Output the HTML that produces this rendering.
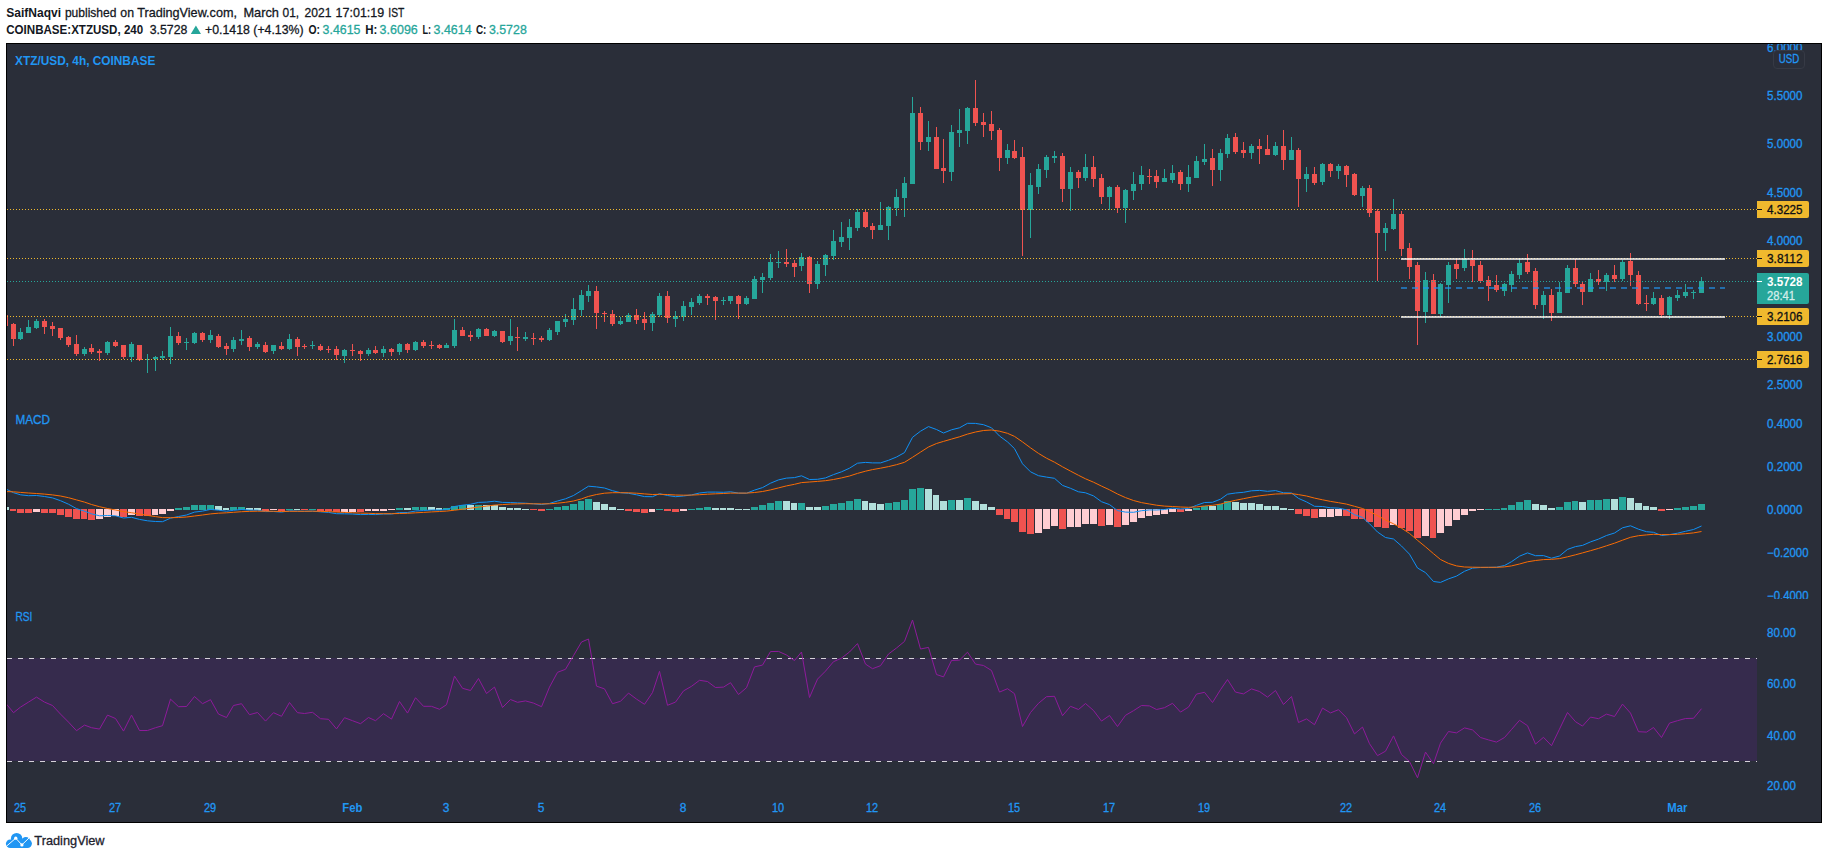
<!DOCTYPE html>
<html><head><meta charset="utf-8"><title>XTZ/USD chart</title>
<style>html,body{margin:0;padding:0;background:#fff;width:1828px;height:859px;overflow:hidden}</style></head>
<body>
<svg width="1828" height="859" viewBox="0 0 1828 859" style="position:absolute;left:0;top:0;font-family:'Liberation Sans',sans-serif" shape-rendering="crispEdges">
<rect x="0" y="0" width="1828" height="859" fill="#ffffff"/>
<rect x="6.5" y="43.5" width="1815" height="779" fill="#2a2e39" stroke="#000000" stroke-width="1"/>
<clipPath id="cp"><rect x="7" y="44" width="1814" height="778"/></clipPath>
<g clip-path="url(#cp)">
<rect x="7" y="658" width="1750" height="103" fill="#362b4d"/>
<line x1="7" y1="658.5" x2="1757" y2="658.5" stroke="#d6d2da" stroke-width="1" stroke-dasharray="5 6"/>
<line x1="7" y1="761.5" x2="1757" y2="761.5" stroke="#d6d2da" stroke-width="1" stroke-dasharray="5 6"/>
<rect x="5" y="312" width="1" height="14" fill="#ef5350"/><rect x="3" y="315" width="5" height="11" fill="#ef5350"/>
<rect x="13" y="323" width="1" height="23" fill="#ef5350"/><rect x="11" y="324" width="5" height="15" fill="#ef5350"/>
<rect x="20" y="328" width="1" height="12" fill="#26a69a"/><rect x="18" y="332" width="5" height="7" fill="#26a69a"/>
<rect x="28" y="320" width="1" height="13" fill="#26a69a"/><rect x="26" y="327" width="5" height="6" fill="#26a69a"/>
<rect x="36" y="319" width="1" height="10" fill="#26a69a"/><rect x="34" y="321" width="5" height="7" fill="#26a69a"/>
<rect x="44" y="319" width="1" height="15" fill="#ef5350"/><rect x="42" y="321" width="5" height="6" fill="#ef5350"/>
<rect x="52" y="322" width="1" height="14" fill="#ef5350"/><rect x="50" y="326" width="5" height="3" fill="#ef5350"/>
<rect x="60" y="328" width="1" height="12" fill="#ef5350"/><rect x="58" y="328" width="5" height="10" fill="#ef5350"/>
<rect x="68" y="336" width="1" height="11" fill="#ef5350"/><rect x="66" y="337" width="5" height="8" fill="#ef5350"/>
<rect x="76" y="335" width="1" height="21" fill="#ef5350"/><rect x="74" y="344" width="5" height="10" fill="#ef5350"/>
<rect x="84" y="347" width="1" height="9" fill="#26a69a"/><rect x="82" y="349" width="5" height="5" fill="#26a69a"/>
<rect x="91" y="344" width="1" height="10" fill="#ef5350"/><rect x="89" y="348" width="5" height="4" fill="#ef5350"/>
<rect x="99" y="349" width="1" height="12" fill="#ef5350"/><rect x="97" y="351" width="5" height="2" fill="#ef5350"/>
<rect x="107" y="341" width="1" height="14" fill="#26a69a"/><rect x="105" y="342" width="5" height="11" fill="#26a69a"/>
<rect x="115" y="340" width="1" height="7" fill="#ef5350"/><rect x="113" y="342" width="5" height="4" fill="#ef5350"/>
<rect x="123" y="345" width="1" height="14" fill="#ef5350"/><rect x="121" y="345" width="5" height="12" fill="#ef5350"/>
<rect x="131" y="342" width="1" height="20" fill="#26a69a"/><rect x="129" y="344" width="5" height="13" fill="#26a69a"/>
<rect x="139" y="345" width="1" height="16" fill="#ef5350"/><rect x="137" y="345" width="5" height="15" fill="#ef5350"/>
<rect x="147" y="354" width="1" height="19" fill="#26a69a"/><rect x="145" y="359" width="5" height="1" fill="#26a69a"/>
<rect x="155" y="356" width="1" height="15" fill="#26a69a"/><rect x="153" y="357" width="5" height="2" fill="#26a69a"/>
<rect x="162" y="351" width="1" height="9" fill="#26a69a"/><rect x="160" y="356" width="5" height="2" fill="#26a69a"/>
<rect x="170" y="327" width="1" height="37" fill="#26a69a"/><rect x="168" y="336" width="5" height="21" fill="#26a69a"/>
<rect x="178" y="332" width="1" height="13" fill="#ef5350"/><rect x="176" y="336" width="5" height="7" fill="#ef5350"/>
<rect x="186" y="338" width="1" height="12" fill="#26a69a"/><rect x="184" y="342" width="5" height="1" fill="#26a69a"/>
<rect x="194" y="332" width="1" height="12" fill="#26a69a"/><rect x="192" y="333" width="5" height="10" fill="#26a69a"/>
<rect x="202" y="332" width="1" height="10" fill="#ef5350"/><rect x="200" y="333" width="5" height="7" fill="#ef5350"/>
<rect x="210" y="330" width="1" height="13" fill="#26a69a"/><rect x="208" y="335" width="5" height="5" fill="#26a69a"/>
<rect x="218" y="334" width="1" height="14" fill="#ef5350"/><rect x="216" y="336" width="5" height="11" fill="#ef5350"/>
<rect x="226" y="343" width="1" height="12" fill="#ef5350"/><rect x="224" y="346" width="5" height="3" fill="#ef5350"/>
<rect x="233" y="337" width="1" height="15" fill="#26a69a"/><rect x="231" y="340" width="5" height="9" fill="#26a69a"/>
<rect x="241" y="330" width="1" height="15" fill="#26a69a"/><rect x="239" y="339" width="5" height="2" fill="#26a69a"/>
<rect x="249" y="336" width="1" height="15" fill="#ef5350"/><rect x="247" y="338" width="5" height="9" fill="#ef5350"/>
<rect x="257" y="342" width="1" height="7" fill="#26a69a"/><rect x="255" y="344" width="5" height="3" fill="#26a69a"/>
<rect x="265" y="342" width="1" height="11" fill="#ef5350"/><rect x="263" y="345" width="5" height="7" fill="#ef5350"/>
<rect x="273" y="345" width="1" height="9" fill="#26a69a"/><rect x="271" y="345" width="5" height="6" fill="#26a69a"/>
<rect x="281" y="342" width="1" height="8" fill="#ef5350"/><rect x="279" y="346" width="5" height="3" fill="#ef5350"/>
<rect x="289" y="334" width="1" height="16" fill="#26a69a"/><rect x="287" y="339" width="5" height="10" fill="#26a69a"/>
<rect x="297" y="337" width="1" height="19" fill="#ef5350"/><rect x="295" y="339" width="5" height="8" fill="#ef5350"/>
<rect x="304" y="344" width="1" height="5" fill="#ef5350"/><rect x="302" y="346" width="5" height="1" fill="#ef5350"/>
<rect x="312" y="341" width="1" height="8" fill="#26a69a"/><rect x="310" y="345" width="5" height="1" fill="#26a69a"/>
<rect x="320" y="344" width="1" height="7" fill="#ef5350"/><rect x="318" y="346" width="5" height="4" fill="#ef5350"/>
<rect x="328" y="346" width="1" height="7" fill="#ef5350"/><rect x="326" y="349" width="5" height="1" fill="#ef5350"/>
<rect x="336" y="346" width="1" height="14" fill="#ef5350"/><rect x="334" y="349" width="5" height="6" fill="#ef5350"/>
<rect x="344" y="349" width="1" height="14" fill="#26a69a"/><rect x="342" y="350" width="5" height="6" fill="#26a69a"/>
<rect x="352" y="344" width="1" height="12" fill="#ef5350"/><rect x="350" y="350" width="5" height="1" fill="#ef5350"/>
<rect x="360" y="350" width="1" height="11" fill="#ef5350"/><rect x="358" y="351" width="5" height="3" fill="#ef5350"/>
<rect x="368" y="348" width="1" height="8" fill="#26a69a"/><rect x="366" y="350" width="5" height="4" fill="#26a69a"/>
<rect x="375" y="346" width="1" height="8" fill="#ef5350"/><rect x="373" y="350" width="5" height="3" fill="#ef5350"/>
<rect x="383" y="346" width="1" height="11" fill="#26a69a"/><rect x="381" y="349" width="5" height="4" fill="#26a69a"/>
<rect x="391" y="348" width="1" height="8" fill="#ef5350"/><rect x="389" y="349" width="5" height="3" fill="#ef5350"/>
<rect x="399" y="343" width="1" height="12" fill="#26a69a"/><rect x="397" y="344" width="5" height="8" fill="#26a69a"/>
<rect x="407" y="343" width="1" height="10" fill="#ef5350"/><rect x="405" y="344" width="5" height="6" fill="#ef5350"/>
<rect x="415" y="341" width="1" height="10" fill="#26a69a"/><rect x="413" y="342" width="5" height="8" fill="#26a69a"/>
<rect x="423" y="340" width="1" height="8" fill="#ef5350"/><rect x="421" y="342" width="5" height="4" fill="#ef5350"/>
<rect x="431" y="341" width="1" height="8" fill="#ef5350"/><rect x="429" y="345" width="5" height="1" fill="#ef5350"/>
<rect x="439" y="344" width="1" height="5" fill="#ef5350"/><rect x="437" y="345" width="5" height="3" fill="#ef5350"/>
<rect x="446" y="343" width="1" height="5" fill="#26a69a"/><rect x="444" y="345" width="5" height="3" fill="#26a69a"/>
<rect x="454" y="319" width="1" height="29" fill="#26a69a"/><rect x="452" y="330" width="5" height="16" fill="#26a69a"/>
<rect x="462" y="327" width="1" height="9" fill="#ef5350"/><rect x="460" y="330" width="5" height="6" fill="#ef5350"/>
<rect x="470" y="331" width="1" height="10" fill="#ef5350"/><rect x="468" y="335" width="5" height="2" fill="#ef5350"/>
<rect x="478" y="328" width="1" height="11" fill="#26a69a"/><rect x="476" y="329" width="5" height="8" fill="#26a69a"/>
<rect x="486" y="328" width="1" height="8" fill="#ef5350"/><rect x="484" y="329" width="5" height="7" fill="#ef5350"/>
<rect x="494" y="330" width="1" height="7" fill="#26a69a"/><rect x="492" y="331" width="5" height="5" fill="#26a69a"/>
<rect x="502" y="331" width="1" height="12" fill="#ef5350"/><rect x="500" y="331" width="5" height="11" fill="#ef5350"/>
<rect x="510" y="319" width="1" height="26" fill="#26a69a"/><rect x="508" y="336" width="5" height="5" fill="#26a69a"/>
<rect x="517" y="327" width="1" height="24" fill="#ef5350"/><rect x="515" y="337" width="5" height="1" fill="#ef5350"/>
<rect x="525" y="332" width="1" height="9" fill="#26a69a"/><rect x="523" y="337" width="5" height="2" fill="#26a69a"/>
<rect x="533" y="333" width="1" height="12" fill="#ef5350"/><rect x="531" y="338" width="5" height="1" fill="#ef5350"/>
<rect x="541" y="336" width="1" height="6" fill="#ef5350"/><rect x="539" y="338" width="5" height="2" fill="#ef5350"/>
<rect x="549" y="328" width="1" height="13" fill="#26a69a"/><rect x="547" y="330" width="5" height="10" fill="#26a69a"/>
<rect x="557" y="321" width="1" height="14" fill="#26a69a"/><rect x="555" y="321" width="5" height="11" fill="#26a69a"/>
<rect x="565" y="314" width="1" height="13" fill="#26a69a"/><rect x="563" y="319" width="5" height="3" fill="#26a69a"/>
<rect x="573" y="298" width="1" height="27" fill="#26a69a"/><rect x="571" y="309" width="5" height="11" fill="#26a69a"/>
<rect x="581" y="290" width="1" height="26" fill="#26a69a"/><rect x="579" y="295" width="5" height="15" fill="#26a69a"/>
<rect x="588" y="285" width="1" height="17" fill="#26a69a"/><rect x="586" y="291" width="5" height="5" fill="#26a69a"/>
<rect x="596" y="286" width="1" height="43" fill="#ef5350"/><rect x="594" y="291" width="5" height="22" fill="#ef5350"/>
<rect x="604" y="311" width="1" height="11" fill="#ef5350"/><rect x="602" y="313" width="5" height="1" fill="#ef5350"/>
<rect x="612" y="310" width="1" height="16" fill="#ef5350"/><rect x="610" y="314" width="5" height="10" fill="#ef5350"/>
<rect x="620" y="317" width="1" height="8" fill="#26a69a"/><rect x="618" y="321" width="5" height="3" fill="#26a69a"/>
<rect x="628" y="313" width="1" height="9" fill="#26a69a"/><rect x="626" y="315" width="5" height="7" fill="#26a69a"/>
<rect x="636" y="309" width="1" height="15" fill="#ef5350"/><rect x="634" y="315" width="5" height="5" fill="#ef5350"/>
<rect x="644" y="312" width="1" height="18" fill="#ef5350"/><rect x="642" y="319" width="5" height="4" fill="#ef5350"/>
<rect x="652" y="312" width="1" height="19" fill="#26a69a"/><rect x="650" y="314" width="5" height="9" fill="#26a69a"/>
<rect x="659" y="293" width="1" height="24" fill="#26a69a"/><rect x="657" y="296" width="5" height="19" fill="#26a69a"/>
<rect x="667" y="291" width="1" height="32" fill="#ef5350"/><rect x="665" y="296" width="5" height="22" fill="#ef5350"/>
<rect x="675" y="311" width="1" height="16" fill="#26a69a"/><rect x="673" y="316" width="5" height="3" fill="#26a69a"/>
<rect x="683" y="301" width="1" height="20" fill="#26a69a"/><rect x="681" y="306" width="5" height="11" fill="#26a69a"/>
<rect x="691" y="298" width="1" height="17" fill="#26a69a"/><rect x="689" y="302" width="5" height="5" fill="#26a69a"/>
<rect x="699" y="294" width="1" height="11" fill="#26a69a"/><rect x="697" y="296" width="5" height="7" fill="#26a69a"/>
<rect x="707" y="294" width="1" height="11" fill="#ef5350"/><rect x="705" y="296" width="5" height="2" fill="#ef5350"/>
<rect x="715" y="296" width="1" height="24" fill="#ef5350"/><rect x="713" y="297" width="5" height="4" fill="#ef5350"/>
<rect x="723" y="297" width="1" height="8" fill="#26a69a"/><rect x="721" y="300" width="5" height="1" fill="#26a69a"/>
<rect x="730" y="296" width="1" height="8" fill="#26a69a"/><rect x="728" y="296" width="5" height="5" fill="#26a69a"/>
<rect x="738" y="295" width="1" height="24" fill="#ef5350"/><rect x="736" y="296" width="5" height="8" fill="#ef5350"/>
<rect x="746" y="296" width="1" height="9" fill="#26a69a"/><rect x="744" y="298" width="5" height="6" fill="#26a69a"/>
<rect x="754" y="276" width="1" height="23" fill="#26a69a"/><rect x="752" y="279" width="5" height="20" fill="#26a69a"/>
<rect x="762" y="273" width="1" height="20" fill="#26a69a"/><rect x="760" y="277" width="5" height="3" fill="#26a69a"/>
<rect x="770" y="254" width="1" height="26" fill="#26a69a"/><rect x="768" y="262" width="5" height="16" fill="#26a69a"/>
<rect x="778" y="251" width="1" height="17" fill="#26a69a"/><rect x="776" y="262" width="5" height="1" fill="#26a69a"/>
<rect x="786" y="249" width="1" height="18" fill="#ef5350"/><rect x="784" y="262" width="5" height="2" fill="#ef5350"/>
<rect x="794" y="260" width="1" height="17" fill="#ef5350"/><rect x="792" y="263" width="5" height="4" fill="#ef5350"/>
<rect x="801" y="253" width="1" height="18" fill="#26a69a"/><rect x="799" y="257" width="5" height="9" fill="#26a69a"/>
<rect x="809" y="256" width="1" height="37" fill="#ef5350"/><rect x="807" y="257" width="5" height="27" fill="#ef5350"/>
<rect x="817" y="261" width="1" height="28" fill="#26a69a"/><rect x="815" y="264" width="5" height="20" fill="#26a69a"/>
<rect x="825" y="254" width="1" height="22" fill="#26a69a"/><rect x="823" y="255" width="5" height="10" fill="#26a69a"/>
<rect x="833" y="230" width="1" height="30" fill="#26a69a"/><rect x="831" y="241" width="5" height="15" fill="#26a69a"/>
<rect x="841" y="222" width="1" height="25" fill="#26a69a"/><rect x="839" y="237" width="5" height="5" fill="#26a69a"/>
<rect x="849" y="219" width="1" height="31" fill="#26a69a"/><rect x="847" y="227" width="5" height="11" fill="#26a69a"/>
<rect x="857" y="209" width="1" height="22" fill="#26a69a"/><rect x="855" y="212" width="5" height="16" fill="#26a69a"/>
<rect x="865" y="209" width="1" height="19" fill="#ef5350"/><rect x="863" y="212" width="5" height="15" fill="#ef5350"/>
<rect x="872" y="223" width="1" height="16" fill="#ef5350"/><rect x="870" y="226" width="5" height="4" fill="#ef5350"/>
<rect x="880" y="202" width="1" height="28" fill="#26a69a"/><rect x="878" y="225" width="5" height="5" fill="#26a69a"/>
<rect x="888" y="206" width="1" height="34" fill="#26a69a"/><rect x="886" y="207" width="5" height="19" fill="#26a69a"/>
<rect x="896" y="189" width="1" height="27" fill="#26a69a"/><rect x="894" y="197" width="5" height="11" fill="#26a69a"/>
<rect x="904" y="177" width="1" height="40" fill="#26a69a"/><rect x="902" y="183" width="5" height="15" fill="#26a69a"/>
<rect x="912" y="97" width="1" height="87" fill="#26a69a"/><rect x="910" y="113" width="5" height="71" fill="#26a69a"/>
<rect x="920" y="107" width="1" height="43" fill="#ef5350"/><rect x="918" y="113" width="5" height="29" fill="#ef5350"/>
<rect x="928" y="121" width="1" height="30" fill="#26a69a"/><rect x="926" y="137" width="5" height="5" fill="#26a69a"/>
<rect x="936" y="127" width="1" height="42" fill="#ef5350"/><rect x="934" y="137" width="5" height="32" fill="#ef5350"/>
<rect x="943" y="139" width="1" height="44" fill="#ef5350"/><rect x="941" y="168" width="5" height="3" fill="#ef5350"/>
<rect x="951" y="125" width="1" height="56" fill="#26a69a"/><rect x="949" y="132" width="5" height="40" fill="#26a69a"/>
<rect x="959" y="109" width="1" height="38" fill="#26a69a"/><rect x="957" y="130" width="5" height="3" fill="#26a69a"/>
<rect x="967" y="107" width="1" height="37" fill="#26a69a"/><rect x="965" y="108" width="5" height="23" fill="#26a69a"/>
<rect x="975" y="80" width="1" height="46" fill="#ef5350"/><rect x="973" y="108" width="5" height="15" fill="#ef5350"/>
<rect x="983" y="113" width="1" height="24" fill="#ef5350"/><rect x="981" y="122" width="5" height="3" fill="#ef5350"/>
<rect x="991" y="111" width="1" height="29" fill="#ef5350"/><rect x="989" y="124" width="5" height="7" fill="#ef5350"/>
<rect x="999" y="128" width="1" height="43" fill="#ef5350"/><rect x="997" y="130" width="5" height="28" fill="#ef5350"/>
<rect x="1007" y="144" width="1" height="20" fill="#26a69a"/><rect x="1005" y="150" width="5" height="8" fill="#26a69a"/>
<rect x="1014" y="140" width="1" height="19" fill="#ef5350"/><rect x="1012" y="151" width="5" height="7" fill="#ef5350"/>
<rect x="1022" y="147" width="1" height="109" fill="#ef5350"/><rect x="1020" y="157" width="5" height="53" fill="#ef5350"/>
<rect x="1030" y="173" width="1" height="65" fill="#26a69a"/><rect x="1028" y="185" width="5" height="25" fill="#26a69a"/>
<rect x="1038" y="164" width="1" height="30" fill="#26a69a"/><rect x="1036" y="169" width="5" height="18" fill="#26a69a"/>
<rect x="1046" y="155" width="1" height="23" fill="#26a69a"/><rect x="1044" y="157" width="5" height="13" fill="#26a69a"/>
<rect x="1054" y="151" width="1" height="12" fill="#26a69a"/><rect x="1052" y="156" width="5" height="2" fill="#26a69a"/>
<rect x="1062" y="153" width="1" height="49" fill="#ef5350"/><rect x="1060" y="156" width="5" height="33" fill="#ef5350"/>
<rect x="1070" y="167" width="1" height="44" fill="#26a69a"/><rect x="1068" y="172" width="5" height="17" fill="#26a69a"/>
<rect x="1078" y="170" width="1" height="18" fill="#ef5350"/><rect x="1076" y="172" width="5" height="6" fill="#ef5350"/>
<rect x="1085" y="154" width="1" height="27" fill="#26a69a"/><rect x="1083" y="167" width="5" height="11" fill="#26a69a"/>
<rect x="1093" y="156" width="1" height="31" fill="#ef5350"/><rect x="1091" y="167" width="5" height="12" fill="#ef5350"/>
<rect x="1101" y="174" width="1" height="30" fill="#ef5350"/><rect x="1099" y="178" width="5" height="19" fill="#ef5350"/>
<rect x="1109" y="186" width="1" height="24" fill="#26a69a"/><rect x="1107" y="187" width="5" height="10" fill="#26a69a"/>
<rect x="1117" y="185" width="1" height="28" fill="#ef5350"/><rect x="1115" y="187" width="5" height="21" fill="#ef5350"/>
<rect x="1125" y="189" width="1" height="34" fill="#26a69a"/><rect x="1123" y="190" width="5" height="18" fill="#26a69a"/>
<rect x="1133" y="172" width="1" height="28" fill="#26a69a"/><rect x="1131" y="184" width="5" height="7" fill="#26a69a"/>
<rect x="1141" y="166" width="1" height="24" fill="#26a69a"/><rect x="1139" y="175" width="5" height="9" fill="#26a69a"/>
<rect x="1149" y="169" width="1" height="15" fill="#ef5350"/><rect x="1147" y="176" width="5" height="1" fill="#ef5350"/>
<rect x="1156" y="170" width="1" height="18" fill="#ef5350"/><rect x="1154" y="176" width="5" height="6" fill="#ef5350"/>
<rect x="1164" y="169" width="1" height="13" fill="#26a69a"/><rect x="1162" y="178" width="5" height="4" fill="#26a69a"/>
<rect x="1172" y="165" width="1" height="18" fill="#26a69a"/><rect x="1170" y="173" width="5" height="7" fill="#26a69a"/>
<rect x="1180" y="170" width="1" height="20" fill="#ef5350"/><rect x="1178" y="172" width="5" height="12" fill="#ef5350"/>
<rect x="1188" y="165" width="1" height="27" fill="#26a69a"/><rect x="1186" y="177" width="5" height="7" fill="#26a69a"/>
<rect x="1196" y="156" width="1" height="22" fill="#26a69a"/><rect x="1194" y="161" width="5" height="17" fill="#26a69a"/>
<rect x="1204" y="144" width="1" height="21" fill="#26a69a"/><rect x="1202" y="159" width="5" height="3" fill="#26a69a"/>
<rect x="1212" y="149" width="1" height="37" fill="#ef5350"/><rect x="1210" y="158" width="5" height="12" fill="#ef5350"/>
<rect x="1220" y="149" width="1" height="32" fill="#26a69a"/><rect x="1218" y="153" width="5" height="17" fill="#26a69a"/>
<rect x="1227" y="134" width="1" height="24" fill="#26a69a"/><rect x="1225" y="138" width="5" height="16" fill="#26a69a"/>
<rect x="1235" y="133" width="1" height="21" fill="#ef5350"/><rect x="1233" y="137" width="5" height="15" fill="#ef5350"/>
<rect x="1243" y="142" width="1" height="16" fill="#ef5350"/><rect x="1241" y="150" width="5" height="3" fill="#ef5350"/>
<rect x="1251" y="144" width="1" height="15" fill="#26a69a"/><rect x="1249" y="146" width="5" height="7" fill="#26a69a"/>
<rect x="1259" y="139" width="1" height="25" fill="#ef5350"/><rect x="1257" y="146" width="5" height="3" fill="#ef5350"/>
<rect x="1267" y="135" width="1" height="20" fill="#ef5350"/><rect x="1265" y="149" width="5" height="6" fill="#ef5350"/>
<rect x="1275" y="142" width="1" height="14" fill="#26a69a"/><rect x="1273" y="146" width="5" height="9" fill="#26a69a"/>
<rect x="1283" y="130" width="1" height="40" fill="#ef5350"/><rect x="1281" y="146" width="5" height="14" fill="#ef5350"/>
<rect x="1291" y="137" width="1" height="23" fill="#26a69a"/><rect x="1289" y="150" width="5" height="10" fill="#26a69a"/>
<rect x="1298" y="148" width="1" height="59" fill="#ef5350"/><rect x="1296" y="150" width="5" height="29" fill="#ef5350"/>
<rect x="1306" y="167" width="1" height="25" fill="#26a69a"/><rect x="1304" y="174" width="5" height="5" fill="#26a69a"/>
<rect x="1314" y="167" width="1" height="18" fill="#ef5350"/><rect x="1312" y="174" width="5" height="9" fill="#ef5350"/>
<rect x="1322" y="163" width="1" height="22" fill="#26a69a"/><rect x="1320" y="164" width="5" height="18" fill="#26a69a"/>
<rect x="1330" y="163" width="1" height="14" fill="#ef5350"/><rect x="1328" y="164" width="5" height="7" fill="#ef5350"/>
<rect x="1338" y="164" width="1" height="15" fill="#26a69a"/><rect x="1336" y="166" width="5" height="5" fill="#26a69a"/>
<rect x="1346" y="165" width="1" height="22" fill="#ef5350"/><rect x="1344" y="166" width="5" height="9" fill="#ef5350"/>
<rect x="1354" y="173" width="1" height="23" fill="#ef5350"/><rect x="1352" y="174" width="5" height="21" fill="#ef5350"/>
<rect x="1362" y="186" width="1" height="21" fill="#26a69a"/><rect x="1360" y="188" width="5" height="8" fill="#26a69a"/>
<rect x="1369" y="185" width="1" height="32" fill="#ef5350"/><rect x="1367" y="188" width="5" height="25" fill="#ef5350"/>
<rect x="1377" y="209" width="1" height="72" fill="#ef5350"/><rect x="1375" y="211" width="5" height="22" fill="#ef5350"/>
<rect x="1385" y="223" width="1" height="28" fill="#26a69a"/><rect x="1383" y="228" width="5" height="5" fill="#26a69a"/>
<rect x="1393" y="199" width="1" height="31" fill="#26a69a"/><rect x="1391" y="214" width="5" height="15" fill="#26a69a"/>
<rect x="1401" y="211" width="1" height="45" fill="#ef5350"/><rect x="1399" y="214" width="5" height="35" fill="#ef5350"/>
<rect x="1409" y="243" width="1" height="36" fill="#ef5350"/><rect x="1407" y="248" width="5" height="19" fill="#ef5350"/>
<rect x="1417" y="262" width="1" height="83" fill="#ef5350"/><rect x="1415" y="265" width="5" height="46" fill="#ef5350"/>
<rect x="1425" y="272" width="1" height="51" fill="#26a69a"/><rect x="1423" y="280" width="5" height="32" fill="#26a69a"/>
<rect x="1433" y="274" width="1" height="40" fill="#ef5350"/><rect x="1431" y="280" width="5" height="34" fill="#ef5350"/>
<rect x="1440" y="283" width="1" height="34" fill="#26a69a"/><rect x="1438" y="284" width="5" height="30" fill="#26a69a"/>
<rect x="1448" y="262" width="1" height="41" fill="#26a69a"/><rect x="1446" y="265" width="5" height="20" fill="#26a69a"/>
<rect x="1456" y="259" width="1" height="20" fill="#ef5350"/><rect x="1454" y="264" width="5" height="5" fill="#ef5350"/>
<rect x="1464" y="249" width="1" height="22" fill="#26a69a"/><rect x="1462" y="259" width="5" height="9" fill="#26a69a"/>
<rect x="1472" y="250" width="1" height="32" fill="#ef5350"/><rect x="1470" y="260" width="5" height="6" fill="#ef5350"/>
<rect x="1480" y="261" width="1" height="22" fill="#ef5350"/><rect x="1478" y="265" width="5" height="16" fill="#ef5350"/>
<rect x="1488" y="276" width="1" height="25" fill="#ef5350"/><rect x="1486" y="280" width="5" height="6" fill="#ef5350"/>
<rect x="1496" y="275" width="1" height="17" fill="#ef5350"/><rect x="1494" y="285" width="5" height="5" fill="#ef5350"/>
<rect x="1504" y="283" width="1" height="13" fill="#26a69a"/><rect x="1502" y="284" width="5" height="7" fill="#26a69a"/>
<rect x="1511" y="271" width="1" height="21" fill="#26a69a"/><rect x="1509" y="274" width="5" height="11" fill="#26a69a"/>
<rect x="1519" y="259" width="1" height="20" fill="#26a69a"/><rect x="1517" y="263" width="5" height="12" fill="#26a69a"/>
<rect x="1527" y="254" width="1" height="20" fill="#ef5350"/><rect x="1525" y="262" width="5" height="10" fill="#ef5350"/>
<rect x="1535" y="268" width="1" height="41" fill="#ef5350"/><rect x="1533" y="271" width="5" height="34" fill="#ef5350"/>
<rect x="1543" y="291" width="1" height="28" fill="#26a69a"/><rect x="1541" y="295" width="5" height="10" fill="#26a69a"/>
<rect x="1551" y="289" width="1" height="32" fill="#ef5350"/><rect x="1549" y="295" width="5" height="18" fill="#ef5350"/>
<rect x="1559" y="282" width="1" height="31" fill="#26a69a"/><rect x="1557" y="292" width="5" height="21" fill="#26a69a"/>
<rect x="1567" y="265" width="1" height="28" fill="#26a69a"/><rect x="1565" y="268" width="5" height="25" fill="#26a69a"/>
<rect x="1575" y="259" width="1" height="28" fill="#ef5350"/><rect x="1573" y="268" width="5" height="16" fill="#ef5350"/>
<rect x="1582" y="282" width="1" height="23" fill="#ef5350"/><rect x="1580" y="284" width="5" height="8" fill="#ef5350"/>
<rect x="1590" y="273" width="1" height="19" fill="#26a69a"/><rect x="1588" y="279" width="5" height="13" fill="#26a69a"/>
<rect x="1598" y="270" width="1" height="15" fill="#ef5350"/><rect x="1596" y="279" width="5" height="3" fill="#ef5350"/>
<rect x="1606" y="273" width="1" height="18" fill="#26a69a"/><rect x="1604" y="275" width="5" height="7" fill="#26a69a"/>
<rect x="1614" y="265" width="1" height="17" fill="#ef5350"/><rect x="1612" y="275" width="5" height="4" fill="#ef5350"/>
<rect x="1622" y="260" width="1" height="21" fill="#26a69a"/><rect x="1620" y="262" width="5" height="17" fill="#26a69a"/>
<rect x="1630" y="253" width="1" height="33" fill="#ef5350"/><rect x="1628" y="261" width="5" height="14" fill="#ef5350"/>
<rect x="1638" y="271" width="1" height="34" fill="#ef5350"/><rect x="1636" y="275" width="5" height="29" fill="#ef5350"/>
<rect x="1646" y="295" width="1" height="16" fill="#ef5350"/><rect x="1644" y="303" width="5" height="1" fill="#ef5350"/>
<rect x="1653" y="292" width="1" height="13" fill="#26a69a"/><rect x="1651" y="298" width="5" height="6" fill="#26a69a"/>
<rect x="1661" y="295" width="1" height="23" fill="#ef5350"/><rect x="1659" y="298" width="5" height="17" fill="#ef5350"/>
<rect x="1669" y="296" width="1" height="23" fill="#26a69a"/><rect x="1667" y="297" width="5" height="18" fill="#26a69a"/>
<rect x="1677" y="290" width="1" height="11" fill="#26a69a"/><rect x="1675" y="295" width="5" height="3" fill="#26a69a"/>
<rect x="1685" y="284" width="1" height="14" fill="#26a69a"/><rect x="1683" y="292" width="5" height="4" fill="#26a69a"/>
<rect x="1693" y="290" width="1" height="9" fill="#26a69a"/><rect x="1691" y="292" width="5" height="1" fill="#26a69a"/>
<rect x="1701" y="277" width="1" height="16" fill="#26a69a"/><rect x="1699" y="281" width="5" height="12" fill="#26a69a"/>
<line x1="7" y1="209.5" x2="1757" y2="209.5" stroke="#f0b92e" stroke-width="1" stroke-dasharray="1 2"/>
<line x1="7" y1="258.5" x2="1757" y2="258.5" stroke="#f0b92e" stroke-width="1" stroke-dasharray="1 2"/>
<line x1="7" y1="316.5" x2="1757" y2="316.5" stroke="#f0b92e" stroke-width="1" stroke-dasharray="1 2"/>
<line x1="7" y1="359.5" x2="1757" y2="359.5" stroke="#f0b92e" stroke-width="1" stroke-dasharray="1 2"/>
<line x1="7" y1="281.5" x2="1757" y2="281.5" stroke="#26a69a" stroke-width="1" stroke-dasharray="1 2"/>
<rect x="1401" y="258" width="324" height="2" fill="#ffffff" fill-opacity="0.72"/>
<rect x="1401" y="316" width="324" height="2" fill="#ffffff" fill-opacity="0.72"/>
<line x1="1401" y1="288" x2="1725" y2="288" stroke="#2196f3" stroke-opacity="0.62" stroke-width="2" stroke-dasharray="5.5 5.5"/>
<rect x="7" y="507" width="2" height="3" fill="#b2dfdb"/>
<rect x="10" y="509" width="6" height="2" fill="#ef5350"/>
<rect x="17" y="509" width="7" height="4" fill="#ef5350"/>
<rect x="25" y="509" width="7" height="4" fill="#ef5350"/>
<rect x="33" y="509" width="7" height="3" fill="#ffcdd2"/>
<rect x="41" y="509" width="7" height="4" fill="#ef5350"/>
<rect x="49" y="509" width="7" height="4" fill="#ef5350"/>
<rect x="57" y="509" width="7" height="6" fill="#ef5350"/>
<rect x="65" y="509" width="7" height="8" fill="#ef5350"/>
<rect x="73" y="509" width="7" height="10" fill="#ef5350"/>
<rect x="81" y="509" width="6" height="10" fill="#ef5350"/>
<rect x="88" y="509" width="7" height="11" fill="#ef5350"/>
<rect x="96" y="509" width="7" height="10" fill="#ffcdd2"/>
<rect x="104" y="509" width="7" height="8" fill="#ffcdd2"/>
<rect x="112" y="509" width="7" height="7" fill="#ffcdd2"/>
<rect x="120" y="509" width="7" height="8" fill="#ef5350"/>
<rect x="128" y="509" width="7" height="6" fill="#ffcdd2"/>
<rect x="136" y="509" width="7" height="7" fill="#ef5350"/>
<rect x="144" y="509" width="7" height="7" fill="#ef5350"/>
<rect x="152" y="509" width="6" height="6" fill="#ffcdd2"/>
<rect x="159" y="509" width="7" height="5" fill="#ffcdd2"/>
<rect x="167" y="509" width="7" height="2" fill="#ffcdd2"/>
<rect x="175" y="508" width="7" height="2" fill="#26a69a"/>
<rect x="183" y="507" width="7" height="3" fill="#26a69a"/>
<rect x="191" y="505" width="7" height="5" fill="#26a69a"/>
<rect x="199" y="505" width="7" height="5" fill="#26a69a"/>
<rect x="207" y="505" width="7" height="5" fill="#26a69a"/>
<rect x="215" y="506" width="7" height="4" fill="#b2dfdb"/>
<rect x="223" y="508" width="6" height="2" fill="#b2dfdb"/>
<rect x="230" y="507" width="7" height="3" fill="#26a69a"/>
<rect x="238" y="507" width="7" height="3" fill="#26a69a"/>
<rect x="246" y="508" width="7" height="2" fill="#b2dfdb"/>
<rect x="254" y="508" width="7" height="2" fill="#b2dfdb"/>
<rect x="262" y="509" width="7" height="2" fill="#ef5350"/>
<rect x="270" y="509" width="7" height="1" fill="#ffcdd2"/>
<rect x="278" y="509" width="7" height="2" fill="#ef5350"/>
<rect x="286" y="509" width="7" height="1" fill="#26a69a"/>
<rect x="294" y="509" width="6" height="1" fill="#b2dfdb"/>
<rect x="301" y="509" width="7" height="1" fill="#ef5350"/>
<rect x="309" y="509" width="7" height="1" fill="#26a69a"/>
<rect x="317" y="509" width="7" height="2" fill="#ef5350"/>
<rect x="325" y="509" width="7" height="2" fill="#ef5350"/>
<rect x="333" y="509" width="7" height="3" fill="#ef5350"/>
<rect x="341" y="509" width="7" height="3" fill="#ffcdd2"/>
<rect x="349" y="509" width="7" height="3" fill="#ffcdd2"/>
<rect x="357" y="509" width="7" height="3" fill="#ef5350"/>
<rect x="365" y="509" width="6" height="2" fill="#ffcdd2"/>
<rect x="372" y="509" width="7" height="2" fill="#ffcdd2"/>
<rect x="380" y="509" width="7" height="2" fill="#ffcdd2"/>
<rect x="388" y="509" width="7" height="1" fill="#ffcdd2"/>
<rect x="396" y="508" width="7" height="2" fill="#26a69a"/>
<rect x="404" y="508" width="7" height="2" fill="#b2dfdb"/>
<rect x="412" y="507" width="7" height="3" fill="#26a69a"/>
<rect x="420" y="507" width="7" height="3" fill="#26a69a"/>
<rect x="428" y="507" width="7" height="3" fill="#b2dfdb"/>
<rect x="436" y="508" width="6" height="2" fill="#b2dfdb"/>
<rect x="443" y="508" width="7" height="2" fill="#26a69a"/>
<rect x="451" y="506" width="7" height="4" fill="#26a69a"/>
<rect x="459" y="505" width="7" height="5" fill="#26a69a"/>
<rect x="467" y="505" width="7" height="5" fill="#b2dfdb"/>
<rect x="475" y="505" width="7" height="5" fill="#26a69a"/>
<rect x="483" y="505" width="7" height="5" fill="#b2dfdb"/>
<rect x="491" y="505" width="7" height="5" fill="#b2dfdb"/>
<rect x="499" y="507" width="7" height="3" fill="#b2dfdb"/>
<rect x="507" y="508" width="6" height="2" fill="#b2dfdb"/>
<rect x="514" y="508" width="7" height="2" fill="#b2dfdb"/>
<rect x="522" y="509" width="7" height="1" fill="#b2dfdb"/>
<rect x="530" y="509" width="7" height="1" fill="#ef5350"/>
<rect x="538" y="509" width="7" height="2" fill="#ef5350"/>
<rect x="546" y="509" width="7" height="1" fill="#26a69a"/>
<rect x="554" y="507" width="7" height="3" fill="#26a69a"/>
<rect x="562" y="506" width="7" height="4" fill="#26a69a"/>
<rect x="570" y="504" width="7" height="6" fill="#26a69a"/>
<rect x="578" y="501" width="6" height="9" fill="#26a69a"/>
<rect x="585" y="499" width="7" height="11" fill="#26a69a"/>
<rect x="593" y="502" width="7" height="8" fill="#b2dfdb"/>
<rect x="601" y="504" width="7" height="6" fill="#b2dfdb"/>
<rect x="609" y="507" width="7" height="3" fill="#b2dfdb"/>
<rect x="617" y="509" width="7" height="1" fill="#b2dfdb"/>
<rect x="625" y="509" width="7" height="2" fill="#ef5350"/>
<rect x="633" y="509" width="7" height="3" fill="#ef5350"/>
<rect x="641" y="509" width="7" height="4" fill="#ef5350"/>
<rect x="649" y="509" width="6" height="3" fill="#ffcdd2"/>
<rect x="656" y="509" width="7" height="1" fill="#26a69a"/>
<rect x="664" y="509" width="7" height="2" fill="#ef5350"/>
<rect x="672" y="509" width="7" height="3" fill="#ef5350"/>
<rect x="680" y="509" width="7" height="2" fill="#ffcdd2"/>
<rect x="688" y="509" width="7" height="1" fill="#26a69a"/>
<rect x="696" y="508" width="7" height="2" fill="#26a69a"/>
<rect x="704" y="507" width="7" height="3" fill="#26a69a"/>
<rect x="712" y="508" width="7" height="2" fill="#b2dfdb"/>
<rect x="720" y="508" width="6" height="2" fill="#b2dfdb"/>
<rect x="727" y="508" width="7" height="2" fill="#b2dfdb"/>
<rect x="735" y="509" width="7" height="1" fill="#b2dfdb"/>
<rect x="743" y="509" width="7" height="1" fill="#b2dfdb"/>
<rect x="751" y="507" width="7" height="3" fill="#26a69a"/>
<rect x="759" y="505" width="7" height="5" fill="#26a69a"/>
<rect x="767" y="503" width="7" height="7" fill="#26a69a"/>
<rect x="775" y="501" width="7" height="9" fill="#26a69a"/>
<rect x="783" y="501" width="7" height="9" fill="#b2dfdb"/>
<rect x="791" y="503" width="6" height="7" fill="#b2dfdb"/>
<rect x="798" y="503" width="7" height="7" fill="#26a69a"/>
<rect x="806" y="507" width="7" height="3" fill="#b2dfdb"/>
<rect x="814" y="507" width="7" height="3" fill="#b2dfdb"/>
<rect x="822" y="506" width="7" height="4" fill="#26a69a"/>
<rect x="830" y="504" width="7" height="6" fill="#26a69a"/>
<rect x="838" y="503" width="7" height="7" fill="#26a69a"/>
<rect x="846" y="501" width="7" height="9" fill="#26a69a"/>
<rect x="854" y="499" width="7" height="11" fill="#26a69a"/>
<rect x="862" y="501" width="6" height="9" fill="#b2dfdb"/>
<rect x="869" y="503" width="7" height="7" fill="#b2dfdb"/>
<rect x="877" y="504" width="7" height="6" fill="#b2dfdb"/>
<rect x="885" y="503" width="7" height="7" fill="#26a69a"/>
<rect x="893" y="502" width="7" height="8" fill="#26a69a"/>
<rect x="901" y="500" width="7" height="10" fill="#26a69a"/>
<rect x="909" y="489" width="7" height="21" fill="#26a69a"/>
<rect x="917" y="488" width="7" height="22" fill="#26a69a"/>
<rect x="925" y="489" width="7" height="21" fill="#b2dfdb"/>
<rect x="933" y="495" width="6" height="15" fill="#b2dfdb"/>
<rect x="940" y="501" width="7" height="9" fill="#b2dfdb"/>
<rect x="948" y="500" width="7" height="10" fill="#26a69a"/>
<rect x="956" y="500" width="7" height="10" fill="#b2dfdb"/>
<rect x="964" y="498" width="7" height="12" fill="#26a69a"/>
<rect x="972" y="501" width="7" height="9" fill="#b2dfdb"/>
<rect x="980" y="504" width="7" height="6" fill="#b2dfdb"/>
<rect x="988" y="507" width="7" height="3" fill="#b2dfdb"/>
<rect x="996" y="509" width="7" height="6" fill="#ef5350"/>
<rect x="1004" y="509" width="6" height="10" fill="#ef5350"/>
<rect x="1011" y="509" width="7" height="13" fill="#ef5350"/>
<rect x="1019" y="509" width="7" height="23" fill="#ef5350"/>
<rect x="1027" y="509" width="7" height="25" fill="#ef5350"/>
<rect x="1035" y="509" width="7" height="24" fill="#ffcdd2"/>
<rect x="1043" y="509" width="7" height="20" fill="#ffcdd2"/>
<rect x="1051" y="509" width="7" height="17" fill="#ffcdd2"/>
<rect x="1059" y="509" width="7" height="20" fill="#ef5350"/>
<rect x="1067" y="509" width="7" height="18" fill="#ffcdd2"/>
<rect x="1075" y="509" width="6" height="18" fill="#ffcdd2"/>
<rect x="1082" y="509" width="7" height="15" fill="#ffcdd2"/>
<rect x="1090" y="509" width="7" height="15" fill="#ffcdd2"/>
<rect x="1098" y="509" width="7" height="17" fill="#ef5350"/>
<rect x="1106" y="509" width="7" height="16" fill="#ffcdd2"/>
<rect x="1114" y="509" width="7" height="18" fill="#ef5350"/>
<rect x="1122" y="509" width="7" height="16" fill="#ffcdd2"/>
<rect x="1130" y="509" width="7" height="13" fill="#ffcdd2"/>
<rect x="1138" y="509" width="7" height="9" fill="#ffcdd2"/>
<rect x="1146" y="509" width="6" height="7" fill="#ffcdd2"/>
<rect x="1153" y="509" width="7" height="6" fill="#ffcdd2"/>
<rect x="1161" y="509" width="7" height="5" fill="#ffcdd2"/>
<rect x="1169" y="509" width="7" height="3" fill="#ffcdd2"/>
<rect x="1177" y="509" width="7" height="3" fill="#ef5350"/>
<rect x="1185" y="509" width="7" height="2" fill="#ffcdd2"/>
<rect x="1193" y="508" width="7" height="2" fill="#26a69a"/>
<rect x="1201" y="506" width="7" height="4" fill="#26a69a"/>
<rect x="1209" y="506" width="7" height="4" fill="#b2dfdb"/>
<rect x="1217" y="504" width="6" height="6" fill="#26a69a"/>
<rect x="1224" y="501" width="7" height="9" fill="#26a69a"/>
<rect x="1232" y="502" width="7" height="8" fill="#b2dfdb"/>
<rect x="1240" y="503" width="7" height="7" fill="#b2dfdb"/>
<rect x="1248" y="503" width="7" height="7" fill="#b2dfdb"/>
<rect x="1256" y="504" width="7" height="6" fill="#b2dfdb"/>
<rect x="1264" y="506" width="7" height="4" fill="#b2dfdb"/>
<rect x="1272" y="506" width="7" height="4" fill="#b2dfdb"/>
<rect x="1280" y="508" width="7" height="2" fill="#b2dfdb"/>
<rect x="1288" y="509" width="6" height="1" fill="#b2dfdb"/>
<rect x="1295" y="509" width="7" height="5" fill="#ef5350"/>
<rect x="1303" y="509" width="7" height="7" fill="#ef5350"/>
<rect x="1311" y="509" width="7" height="9" fill="#ef5350"/>
<rect x="1319" y="509" width="7" height="8" fill="#ffcdd2"/>
<rect x="1327" y="509" width="7" height="8" fill="#ffcdd2"/>
<rect x="1335" y="509" width="7" height="7" fill="#ffcdd2"/>
<rect x="1343" y="509" width="7" height="7" fill="#ef5350"/>
<rect x="1351" y="509" width="7" height="10" fill="#ef5350"/>
<rect x="1359" y="509" width="6" height="10" fill="#ef5350"/>
<rect x="1366" y="509" width="7" height="13" fill="#ef5350"/>
<rect x="1374" y="509" width="7" height="18" fill="#ef5350"/>
<rect x="1382" y="509" width="7" height="19" fill="#ef5350"/>
<rect x="1390" y="509" width="7" height="16" fill="#ffcdd2"/>
<rect x="1398" y="509" width="7" height="19" fill="#ef5350"/>
<rect x="1406" y="509" width="7" height="22" fill="#ef5350"/>
<rect x="1414" y="509" width="7" height="29" fill="#ef5350"/>
<rect x="1422" y="509" width="7" height="27" fill="#ffcdd2"/>
<rect x="1430" y="509" width="6" height="29" fill="#ef5350"/>
<rect x="1437" y="509" width="7" height="24" fill="#ffcdd2"/>
<rect x="1445" y="509" width="7" height="17" fill="#ffcdd2"/>
<rect x="1453" y="509" width="7" height="11" fill="#ffcdd2"/>
<rect x="1461" y="509" width="7" height="6" fill="#ffcdd2"/>
<rect x="1469" y="509" width="7" height="2" fill="#ffcdd2"/>
<rect x="1477" y="509" width="7" height="1" fill="#ffcdd2"/>
<rect x="1485" y="509" width="7" height="1" fill="#26a69a"/>
<rect x="1493" y="509" width="7" height="1" fill="#26a69a"/>
<rect x="1501" y="508" width="6" height="2" fill="#26a69a"/>
<rect x="1508" y="505" width="7" height="5" fill="#26a69a"/>
<rect x="1516" y="502" width="7" height="8" fill="#26a69a"/>
<rect x="1524" y="500" width="7" height="10" fill="#26a69a"/>
<rect x="1532" y="504" width="7" height="6" fill="#b2dfdb"/>
<rect x="1540" y="505" width="7" height="5" fill="#b2dfdb"/>
<rect x="1548" y="508" width="7" height="2" fill="#b2dfdb"/>
<rect x="1556" y="507" width="7" height="3" fill="#26a69a"/>
<rect x="1564" y="502" width="7" height="8" fill="#26a69a"/>
<rect x="1572" y="501" width="6" height="9" fill="#26a69a"/>
<rect x="1579" y="502" width="7" height="8" fill="#b2dfdb"/>
<rect x="1587" y="500" width="7" height="10" fill="#26a69a"/>
<rect x="1595" y="500" width="7" height="10" fill="#26a69a"/>
<rect x="1603" y="499" width="7" height="11" fill="#26a69a"/>
<rect x="1611" y="499" width="7" height="11" fill="#b2dfdb"/>
<rect x="1619" y="497" width="7" height="13" fill="#26a69a"/>
<rect x="1627" y="498" width="7" height="12" fill="#b2dfdb"/>
<rect x="1635" y="503" width="7" height="7" fill="#b2dfdb"/>
<rect x="1643" y="506" width="6" height="4" fill="#b2dfdb"/>
<rect x="1650" y="507" width="7" height="3" fill="#b2dfdb"/>
<rect x="1658" y="509" width="7" height="2" fill="#ef5350"/>
<rect x="1666" y="509" width="7" height="1" fill="#ffcdd2"/>
<rect x="1674" y="508" width="7" height="2" fill="#26a69a"/>
<rect x="1682" y="507" width="7" height="3" fill="#26a69a"/>
<rect x="1690" y="506" width="7" height="4" fill="#26a69a"/>
<rect x="1698" y="504" width="7" height="6" fill="#26a69a"/>
<polyline points="5.5,488.8 13.5,492.7 20.5,494.8 28.5,495.7 36.5,495.5 44.5,496.5 52.5,497.9 60.5,500.7 68.5,504.2 76.5,508.6 84.5,511.2 91.5,513.8 99.5,515.8 107.5,515.5 115.5,515.8 123.5,518.0 131.5,517.3 139.5,519.4 147.5,520.8 155.5,521.5 162.5,521.7 170.5,518.2 178.5,516.5 186.5,515.0 194.5,512.1 202.5,511.1 210.5,509.4 218.5,510.2 226.5,511.2 233.5,510.3 241.5,509.5 249.5,510.1 257.5,510.2 265.5,511.6 273.5,511.5 281.5,512.1 289.5,510.8 297.5,511.1 304.5,511.3 312.5,511.1 320.5,511.8 328.5,512.4 336.5,513.7 344.5,513.8 352.5,514.0 360.5,514.6 368.5,514.4 375.5,514.6 383.5,514.0 391.5,514.0 399.5,512.6 407.5,512.5 415.5,511.0 423.5,510.5 431.5,510.0 439.5,510.0 446.5,509.6 454.5,506.5 462.5,505.2 470.5,504.3 478.5,502.4 486.5,502.1 494.5,501.2 502.5,502.4 510.5,502.5 517.5,502.9 525.5,503.2 533.5,503.8 541.5,504.5 549.5,503.4 557.5,501.0 565.5,498.8 573.5,495.5 581.5,490.6 588.5,486.2 596.5,486.9 604.5,488.0 612.5,490.7 620.5,492.7 628.5,493.3 636.5,494.8 644.5,496.6 652.5,496.7 659.5,493.7 667.5,495.5 675.5,496.7 683.5,496.0 691.5,494.9 699.5,493.0 707.5,492.1 715.5,492.1 723.5,492.3 730.5,491.8 738.5,493.1 746.5,493.2 754.5,490.1 762.5,487.6 770.5,483.2 778.5,479.9 786.5,478.1 794.5,477.6 801.5,475.8 809.5,479.5 817.5,479.3 825.5,477.9 833.5,474.6 841.5,471.8 849.5,468.2 857.5,463.2 865.5,462.4 872.5,462.9 880.5,462.9 888.5,460.3 896.5,457.0 904.5,452.6 912.5,437.3 920.5,431.2 928.5,426.6 936.5,429.5 943.5,433.0 951.5,429.8 959.5,427.8 967.5,423.3 975.5,423.4 983.5,424.7 991.5,427.8 999.5,436.0 1007.5,441.9 1014.5,448.6 1022.5,463.8 1030.5,471.8 1038.5,475.7 1046.5,477.1 1054.5,478.3 1062.5,485.4 1070.5,488.3 1078.5,491.8 1085.5,492.8 1093.5,495.9 1101.5,501.7 1109.5,504.6 1117.5,510.6 1125.5,512.1 1133.5,512.3 1141.5,510.7 1149.5,509.9 1156.5,510.0 1164.5,509.5 1172.5,508.1 1180.5,509.0 1188.5,508.5 1196.5,505.3 1204.5,502.5 1212.5,502.3 1220.5,499.2 1227.5,494.2 1235.5,493.0 1243.5,492.3 1251.5,490.8 1259.5,490.4 1267.5,491.3 1275.5,490.6 1283.5,492.8 1291.5,493.0 1298.5,498.4 1306.5,501.9 1314.5,506.3 1322.5,506.5 1330.5,507.8 1338.5,508.1 1346.5,509.8 1354.5,514.7 1362.5,517.4 1369.5,523.7 1377.5,532.0 1385.5,537.5 1393.5,539.0 1401.5,546.0 1409.5,554.2 1417.5,568.0 1425.5,572.6 1433.5,581.5 1440.5,582.4 1448.5,578.9 1456.5,576.1 1464.5,571.3 1472.5,568.1 1480.5,567.5 1488.5,567.4 1496.5,567.2 1504.5,565.5 1511.5,561.7 1519.5,556.2 1527.5,552.9 1535.5,555.7 1543.5,555.6 1551.5,558.2 1559.5,556.0 1567.5,549.4 1575.5,546.6 1582.5,545.4 1590.5,541.9 1598.5,539.1 1606.5,535.5 1614.5,533.0 1622.5,527.8 1630.5,525.8 1638.5,529.2 1646.5,531.7 1653.5,532.3 1661.5,535.5 1669.5,534.6 1677.5,533.2 1685.5,531.3 1693.5,529.5 1701.5,526.0" fill="none" stroke="#0f90f5" stroke-width="1.0" stroke-linejoin="round" shape-rendering="auto"/>
<polyline points="5.5,491.6 13.5,491.8 20.5,492.4 28.5,493.0 36.5,493.5 44.5,494.1 52.5,494.9 60.5,496.0 68.5,497.7 76.5,499.9 84.5,502.1 91.5,504.5 99.5,506.7 107.5,508.5 115.5,510.0 123.5,511.6 131.5,512.7 139.5,514.1 147.5,515.4 155.5,516.6 162.5,517.6 170.5,517.7 178.5,517.5 186.5,517.0 194.5,516.0 202.5,515.0 210.5,513.9 218.5,513.2 226.5,512.8 233.5,512.3 241.5,511.7 249.5,511.4 257.5,511.2 265.5,511.2 273.5,511.3 281.5,511.5 289.5,511.3 297.5,511.3 304.5,511.3 312.5,511.2 320.5,511.4 328.5,511.6 336.5,512.0 344.5,512.4 352.5,512.7 360.5,513.1 368.5,513.3 375.5,513.6 383.5,513.7 391.5,513.7 399.5,513.5 407.5,513.3 415.5,512.8 423.5,512.4 431.5,511.9 439.5,511.5 446.5,511.1 454.5,510.2 462.5,509.2 470.5,508.2 478.5,507.1 486.5,506.1 494.5,505.1 502.5,504.6 510.5,504.1 517.5,503.9 525.5,503.7 533.5,503.8 541.5,503.9 549.5,503.8 557.5,503.2 565.5,502.3 573.5,501.0 581.5,498.9 588.5,496.4 596.5,494.5 604.5,493.2 612.5,492.7 620.5,492.7 628.5,492.8 636.5,493.2 644.5,493.9 652.5,494.5 659.5,494.3 667.5,494.5 675.5,495.0 683.5,495.2 691.5,495.1 699.5,494.7 707.5,494.2 715.5,493.8 723.5,493.5 730.5,493.1 738.5,493.1 746.5,493.1 754.5,492.5 762.5,491.5 770.5,489.9 778.5,487.9 786.5,485.9 794.5,484.3 801.5,482.6 809.5,482.0 817.5,481.4 825.5,480.7 833.5,479.5 841.5,477.9 849.5,476.0 857.5,473.4 865.5,471.2 872.5,469.6 880.5,468.2 888.5,466.6 896.5,464.7 904.5,462.3 912.5,457.3 920.5,452.1 928.5,447.0 936.5,443.5 943.5,441.4 951.5,439.1 959.5,436.8 967.5,434.1 975.5,432.0 983.5,430.5 991.5,430.0 999.5,431.2 1007.5,433.3 1014.5,436.4 1022.5,441.9 1030.5,447.8 1038.5,453.4 1046.5,458.2 1054.5,462.2 1062.5,466.8 1070.5,471.1 1078.5,475.3 1085.5,478.8 1093.5,482.2 1101.5,486.1 1109.5,489.8 1117.5,494.0 1125.5,497.6 1133.5,500.5 1141.5,502.6 1149.5,504.0 1156.5,505.2 1164.5,506.1 1172.5,506.5 1180.5,507.0 1188.5,507.3 1196.5,506.9 1204.5,506.0 1212.5,505.3 1220.5,504.1 1227.5,502.1 1235.5,500.3 1243.5,498.7 1251.5,497.1 1259.5,495.8 1267.5,494.9 1275.5,494.0 1283.5,493.8 1291.5,493.6 1298.5,494.6 1306.5,496.0 1314.5,498.1 1322.5,499.8 1330.5,501.4 1338.5,502.7 1346.5,504.1 1354.5,506.3 1362.5,508.5 1369.5,511.5 1377.5,515.6 1385.5,520.0 1393.5,523.8 1401.5,528.2 1409.5,533.4 1417.5,540.3 1425.5,546.8 1433.5,553.7 1440.5,559.5 1448.5,563.4 1456.5,565.9 1464.5,567.0 1472.5,567.2 1480.5,567.3 1488.5,567.3 1496.5,567.3 1504.5,566.9 1511.5,565.9 1519.5,564.0 1527.5,561.8 1535.5,560.5 1543.5,559.6 1551.5,559.3 1559.5,558.6 1567.5,556.8 1575.5,554.8 1582.5,552.9 1590.5,550.7 1598.5,548.4 1606.5,545.8 1614.5,543.2 1622.5,540.2 1630.5,537.3 1638.5,535.7 1646.5,534.9 1653.5,534.3 1661.5,534.6 1669.5,534.6 1677.5,534.3 1685.5,533.7 1693.5,532.9 1701.5,531.5" fill="none" stroke="#fa6c04" stroke-width="1.0" stroke-linejoin="round" shape-rendering="auto"/>
<polyline points="5.5,703.0 13.5,712.7 20.5,707.1 28.5,702.1 36.5,697.1 44.5,702.1 52.5,705.5 60.5,714.1 68.5,722.1 76.5,730.7 84.5,725.1 91.5,727.7 99.5,729.1 107.5,715.1 115.5,718.5 123.5,731.1 131.5,715.1 139.5,730.5 147.5,730.5 155.5,727.7 162.5,725.7 170.5,699.1 178.5,706.7 186.5,706.5 194.5,696.5 202.5,703.7 210.5,699.7 218.5,714.1 226.5,717.5 233.5,705.5 241.5,703.7 249.5,714.7 257.5,712.5 265.5,721.1 273.5,712.7 281.5,716.3 289.5,702.5 297.5,712.7 304.5,713.5 312.5,712.3 320.5,718.7 328.5,719.3 336.5,728.9 344.5,717.7 352.5,720.7 360.5,723.7 368.5,717.5 375.5,720.7 383.5,713.7 391.5,719.1 399.5,701.5 407.5,713.1 415.5,697.7 423.5,706.3 431.5,706.3 439.5,709.3 446.5,704.7 454.5,676.1 462.5,688.3 470.5,690.5 478.5,678.5 486.5,693.5 494.5,687.1 502.5,707.5 510.5,699.5 517.5,702.3 525.5,700.9 533.5,703.1 541.5,706.7 549.5,687.1 557.5,672.3 565.5,669.3 573.5,655.6 581.5,642.0 588.5,639.0 596.5,686.1 604.5,688.9 612.5,703.7 620.5,701.3 628.5,693.1 636.5,699.1 644.5,704.3 652.5,692.5 659.5,671.3 667.5,705.3 675.5,702.1 683.5,690.9 691.5,686.3 699.5,680.3 707.5,681.5 715.5,687.5 723.5,687.1 730.5,682.7 738.5,694.5 746.5,687.7 754.5,666.9 762.5,665.1 770.5,651.6 778.5,651.4 786.5,655.0 794.5,660.5 801.5,652.0 809.5,697.5 817.5,679.1 825.5,671.1 833.5,661.7 841.5,658.1 849.5,652.0 857.5,643.6 865.5,664.1 872.5,668.7 880.5,665.7 888.5,654.0 896.5,648.0 904.5,641.4 912.5,620.0 920.5,649.0 928.5,647.4 936.5,674.5 943.5,676.9 951.5,660.5 959.5,660.1 967.5,652.2 975.5,664.1 983.5,665.5 991.5,670.5 999.5,692.1 1007.5,688.7 1014.5,693.7 1022.5,726.5 1030.5,712.5 1038.5,703.3 1046.5,696.7 1054.5,696.3 1062.5,715.7 1070.5,706.3 1078.5,709.5 1085.5,703.5 1093.5,710.5 1101.5,721.1 1109.5,715.5 1117.5,726.5 1125.5,715.3 1133.5,710.7 1141.5,705.5 1149.5,705.9 1156.5,709.5 1164.5,707.7 1172.5,703.3 1180.5,712.1 1188.5,707.1 1196.5,694.1 1204.5,692.3 1212.5,702.5 1220.5,689.7 1227.5,679.5 1235.5,692.1 1243.5,693.9 1251.5,688.9 1259.5,691.5 1267.5,697.1 1275.5,690.5 1283.5,704.5 1291.5,696.5 1298.5,722.5 1306.5,718.9 1314.5,724.7 1322.5,708.1 1330.5,712.9 1338.5,709.7 1346.5,717.7 1354.5,733.9 1362.5,727.1 1369.5,743.7 1377.5,755.6 1385.5,751.2 1393.5,735.9 1401.5,754.5 1409.5,761.5 1417.5,777.8 1425.5,752.1 1433.5,763.7 1440.5,743.1 1448.5,731.5 1456.5,732.9 1464.5,727.9 1472.5,729.9 1480.5,737.5 1488.5,739.9 1496.5,742.1 1504.5,737.5 1511.5,729.5 1519.5,720.3 1527.5,725.7 1535.5,744.1 1543.5,737.3 1551.5,745.7 1559.5,729.1 1567.5,712.5 1575.5,721.7 1582.5,726.1 1590.5,717.1 1598.5,718.7 1606.5,714.1 1614.5,716.5 1622.5,704.1 1630.5,713.1 1638.5,731.7 1646.5,732.1 1653.5,727.5 1661.5,737.5 1669.5,723.1 1677.5,720.7 1685.5,718.5 1693.5,718.3 1701.5,708.7" fill="none" stroke="#8e1a9b" stroke-width="1.0" stroke-linejoin="round" shape-rendering="auto"/>
</g>
<text x="1767" y="99.89999999999999" font-size="12" font-weight="normal" fill="#2196f3" stroke="#2196f3" stroke-width="0.3" text-anchor="start" textLength="35.5" lengthAdjust="spacingAndGlyphs">5.5000</text>
<text x="1767" y="148.0" font-size="12" font-weight="normal" fill="#2196f3" stroke="#2196f3" stroke-width="0.3" text-anchor="start" textLength="35.5" lengthAdjust="spacingAndGlyphs">5.0000</text>
<text x="1767" y="196.9" font-size="12" font-weight="normal" fill="#2196f3" stroke="#2196f3" stroke-width="0.3" text-anchor="start" textLength="35.5" lengthAdjust="spacingAndGlyphs">4.5000</text>
<text x="1767" y="245.0" font-size="12" font-weight="normal" fill="#2196f3" stroke="#2196f3" stroke-width="0.3" text-anchor="start" textLength="35.5" lengthAdjust="spacingAndGlyphs">4.0000</text>
<text x="1767" y="340.8" font-size="12" font-weight="normal" fill="#2196f3" stroke="#2196f3" stroke-width="0.3" text-anchor="start" textLength="35.5" lengthAdjust="spacingAndGlyphs">3.0000</text>
<text x="1767" y="389.0" font-size="12" font-weight="normal" fill="#2196f3" stroke="#2196f3" stroke-width="0.3" text-anchor="start" textLength="35.5" lengthAdjust="spacingAndGlyphs">2.5000</text>
<clipPath id="cpm"><rect x="7" y="44" width="1814" height="555"/></clipPath>
<g clip-path="url(#cpm)">
<text x="1767" y="51.699999999999996" font-size="12" font-weight="normal" fill="#2196f3" stroke="#2196f3" stroke-width="0.3" text-anchor="start" textLength="35.5" lengthAdjust="spacingAndGlyphs">6.0000</text>
<text x="1767" y="599.9" font-size="12" font-weight="normal" fill="#2196f3" stroke="#2196f3" stroke-width="0.3" text-anchor="start" textLength="41.5" lengthAdjust="spacingAndGlyphs">−0.4000</text>
</g>
<text x="1767" y="427.8" font-size="12" font-weight="normal" fill="#2196f3" stroke="#2196f3" stroke-width="0.3" text-anchor="start" textLength="35.5" lengthAdjust="spacingAndGlyphs">0.4000</text>
<text x="1767" y="470.8" font-size="12" font-weight="normal" fill="#2196f3" stroke="#2196f3" stroke-width="0.3" text-anchor="start" textLength="35.5" lengthAdjust="spacingAndGlyphs">0.2000</text>
<text x="1767" y="513.8" font-size="12" font-weight="normal" fill="#2196f3" stroke="#2196f3" stroke-width="0.3" text-anchor="start" textLength="35.5" lengthAdjust="spacingAndGlyphs">0.0000</text>
<text x="1767" y="556.9" font-size="12" font-weight="normal" fill="#2196f3" stroke="#2196f3" stroke-width="0.3" text-anchor="start" textLength="41.5" lengthAdjust="spacingAndGlyphs">−0.2000</text>
<text x="1767" y="636.9" font-size="12" font-weight="normal" fill="#2196f3" stroke="#2196f3" stroke-width="0.3" text-anchor="start" textLength="29" lengthAdjust="spacingAndGlyphs">80.00</text>
<text x="1767" y="687.8" font-size="12" font-weight="normal" fill="#2196f3" stroke="#2196f3" stroke-width="0.3" text-anchor="start" textLength="29" lengthAdjust="spacingAndGlyphs">60.00</text>
<text x="1767" y="740.0" font-size="12" font-weight="normal" fill="#2196f3" stroke="#2196f3" stroke-width="0.3" text-anchor="start" textLength="29" lengthAdjust="spacingAndGlyphs">40.00</text>
<text x="1767" y="790.4" font-size="12" font-weight="normal" fill="#2196f3" stroke="#2196f3" stroke-width="0.3" text-anchor="start" textLength="29" lengthAdjust="spacingAndGlyphs">20.00</text>
<rect x="1773.5" y="50.5" width="31" height="18" rx="3.5" fill="#2a2e39" stroke="#363a45" stroke-width="1" shape-rendering="auto"/>
<text x="1789" y="62.6" font-size="12" font-weight="normal" fill="#2196f3" stroke="#2196f3" stroke-width="0.3" text-anchor="middle" textLength="20.5" lengthAdjust="spacingAndGlyphs">USD</text>
<path d="M1757 201h50a2 2 0 0 1 2 2v13a2 2 0 0 1 -2 2h-50z" fill="#f0b92e" shape-rendering="auto"/>
<rect x="1757" y="209" width="5" height="1" fill="#0c0e15"/>
<text x="1767" y="213.8" font-size="12" font-weight="normal" fill="#0c0e15" stroke="#0c0e15" stroke-width="0.3" text-anchor="start" textLength="35.5" lengthAdjust="spacingAndGlyphs">4.3225</text>
<path d="M1757 250h50a2 2 0 0 1 2 2v13a2 2 0 0 1 -2 2h-50z" fill="#f0b92e" shape-rendering="auto"/>
<rect x="1757" y="258" width="5" height="1" fill="#0c0e15"/>
<text x="1767" y="262.8" font-size="12" font-weight="normal" fill="#0c0e15" stroke="#0c0e15" stroke-width="0.3" text-anchor="start" textLength="35.5" lengthAdjust="spacingAndGlyphs">3.8112</text>
<path d="M1757 308h50a2 2 0 0 1 2 2v13a2 2 0 0 1 -2 2h-50z" fill="#f0b92e" shape-rendering="auto"/>
<rect x="1757" y="316" width="5" height="1" fill="#0c0e15"/>
<text x="1767" y="320.8" font-size="12" font-weight="normal" fill="#0c0e15" stroke="#0c0e15" stroke-width="0.3" text-anchor="start" textLength="35.5" lengthAdjust="spacingAndGlyphs">3.2106</text>
<path d="M1757 351h50a2 2 0 0 1 2 2v13a2 2 0 0 1 -2 2h-50z" fill="#f0b92e" shape-rendering="auto"/>
<rect x="1757" y="359" width="5" height="1" fill="#0c0e15"/>
<text x="1767" y="363.8" font-size="12" font-weight="normal" fill="#0c0e15" stroke="#0c0e15" stroke-width="0.3" text-anchor="start" textLength="35.5" lengthAdjust="spacingAndGlyphs">2.7616</text>
<path d="M1757 273h50a2 2 0 0 1 2 2v27a2 2 0 0 1 -2 2h-50z" fill="#26a69a" shape-rendering="auto"/>
<rect x="1757" y="281" width="5" height="1" fill="#ffffff"/>
<text x="1767" y="286.3" font-size="12" font-weight="bold" fill="#ffffff" text-anchor="start" textLength="35.5" lengthAdjust="spacingAndGlyphs">3.5728</text>
<text x="1767" y="299.8" font-size="12" font-weight="normal" fill="#d4edea" stroke="#d4edea" stroke-width="0.3" text-anchor="start" textLength="28" lengthAdjust="spacingAndGlyphs">28:41</text>
<text x="20" y="812.3" font-size="12" font-weight="normal" fill="#2196f3" stroke="#2196f3" stroke-width="0.3" text-anchor="middle" textLength="12.2" lengthAdjust="spacingAndGlyphs">25</text>
<text x="115" y="812.3" font-size="12" font-weight="normal" fill="#2196f3" stroke="#2196f3" stroke-width="0.3" text-anchor="middle" textLength="12.2" lengthAdjust="spacingAndGlyphs">27</text>
<text x="210" y="812.3" font-size="12" font-weight="normal" fill="#2196f3" stroke="#2196f3" stroke-width="0.3" text-anchor="middle" textLength="12.2" lengthAdjust="spacingAndGlyphs">29</text>
<text x="352.3" y="812.3" font-size="12" font-weight="bold" fill="#2196f3" text-anchor="middle" textLength="20.2" lengthAdjust="spacingAndGlyphs">Feb</text>
<text x="446" y="812.3" font-size="12" font-weight="normal" fill="#2196f3" stroke="#2196f3" stroke-width="0.3" text-anchor="middle">3</text>
<text x="541" y="812.3" font-size="12" font-weight="normal" fill="#2196f3" stroke="#2196f3" stroke-width="0.3" text-anchor="middle">5</text>
<text x="683" y="812.3" font-size="12" font-weight="normal" fill="#2196f3" stroke="#2196f3" stroke-width="0.3" text-anchor="middle">8</text>
<text x="778" y="812.3" font-size="12" font-weight="normal" fill="#2196f3" stroke="#2196f3" stroke-width="0.3" text-anchor="middle" textLength="12.2" lengthAdjust="spacingAndGlyphs">10</text>
<text x="872" y="812.3" font-size="12" font-weight="normal" fill="#2196f3" stroke="#2196f3" stroke-width="0.3" text-anchor="middle" textLength="12.2" lengthAdjust="spacingAndGlyphs">12</text>
<text x="1014" y="812.3" font-size="12" font-weight="normal" fill="#2196f3" stroke="#2196f3" stroke-width="0.3" text-anchor="middle" textLength="12.2" lengthAdjust="spacingAndGlyphs">15</text>
<text x="1109" y="812.3" font-size="12" font-weight="normal" fill="#2196f3" stroke="#2196f3" stroke-width="0.3" text-anchor="middle" textLength="12.2" lengthAdjust="spacingAndGlyphs">17</text>
<text x="1204" y="812.3" font-size="12" font-weight="normal" fill="#2196f3" stroke="#2196f3" stroke-width="0.3" text-anchor="middle" textLength="12.2" lengthAdjust="spacingAndGlyphs">19</text>
<text x="1346" y="812.3" font-size="12" font-weight="normal" fill="#2196f3" stroke="#2196f3" stroke-width="0.3" text-anchor="middle" textLength="12.2" lengthAdjust="spacingAndGlyphs">22</text>
<text x="1440" y="812.3" font-size="12" font-weight="normal" fill="#2196f3" stroke="#2196f3" stroke-width="0.3" text-anchor="middle" textLength="12.2" lengthAdjust="spacingAndGlyphs">24</text>
<text x="1535" y="812.3" font-size="12" font-weight="normal" fill="#2196f3" stroke="#2196f3" stroke-width="0.3" text-anchor="middle" textLength="12.2" lengthAdjust="spacingAndGlyphs">26</text>
<text x="1677.3" y="812.3" font-size="12" font-weight="bold" fill="#2196f3" text-anchor="middle" textLength="20.2" lengthAdjust="spacingAndGlyphs">Mar</text>
<text x="15" y="64.8" font-size="13" font-weight="bold" fill="#2196f3" text-anchor="start" textLength="140.3" lengthAdjust="spacingAndGlyphs">XTZ/USD, 4h, COINBASE</text>
<text x="15.4" y="424.3" font-size="13" font-weight="normal" fill="#2196f3" stroke="#2196f3" stroke-width="0.3" text-anchor="start" textLength="34.6" lengthAdjust="spacingAndGlyphs">MACD</text>
<text x="15.4" y="621" font-size="13" font-weight="normal" fill="#2196f3" stroke="#2196f3" stroke-width="0.3" text-anchor="start" textLength="17" lengthAdjust="spacingAndGlyphs">RSI</text>
<text x="6.2" y="16.8" font-size="13.4" font-weight="bold" fill="#131722" text-anchor="start" textLength="54.9" lengthAdjust="spacingAndGlyphs">SaifNaqvi</text>
<text y="16.8" font-size="13.4" fill="#131722" stroke="#131722" stroke-width="0.3"><tspan x="64.9" textLength="51.6" lengthAdjust="spacingAndGlyphs">published</tspan> <tspan x="120.3" textLength="13.7" lengthAdjust="spacingAndGlyphs">on</tspan> <tspan x="137.2" textLength="99.8" lengthAdjust="spacingAndGlyphs">TradingView.com,</tspan> <tspan x="243.4" textLength="35.6" lengthAdjust="spacingAndGlyphs">March</tspan> <tspan x="282.5" textLength="16.6" lengthAdjust="spacingAndGlyphs">01,</tspan> <tspan x="304.5" textLength="26.9" lengthAdjust="spacingAndGlyphs">2021</tspan> <tspan x="335.6" textLength="48.6" lengthAdjust="spacingAndGlyphs">17:01:19</tspan> <tspan x="388.3" textLength="16" lengthAdjust="spacingAndGlyphs">IST</tspan></text>
<text x="6.2" y="33.9" font-size="13.4" font-weight="bold" fill="#131722" text-anchor="start" textLength="137.0" lengthAdjust="spacingAndGlyphs">COINBASE:XTZUSD, 240</text>
<text x="149.7" y="33.9" font-size="13.4" font-weight="normal" fill="#131722" stroke="#131722" stroke-width="0.3" text-anchor="start" textLength="37.7" lengthAdjust="spacingAndGlyphs">3.5728</text>
<text x="205" y="33.9" font-size="13.4" font-weight="normal" fill="#131722" stroke="#131722" stroke-width="0.3" text-anchor="start" textLength="98.6" lengthAdjust="spacingAndGlyphs">+0.1418 (+4.13%)</text>
<text x="308.5" y="33.9" font-size="13.4" font-weight="bold" fill="#131722" text-anchor="start" textLength="11.5" lengthAdjust="spacingAndGlyphs">O:</text>
<text x="322.6" y="33.9" font-size="13.4" font-weight="normal" fill="#26a69a" stroke="#26a69a" stroke-width="0.3" text-anchor="start" textLength="37.8" lengthAdjust="spacingAndGlyphs">3.4615</text>
<text x="365.3" y="33.9" font-size="13.4" font-weight="bold" fill="#131722" text-anchor="start" textLength="12.1" lengthAdjust="spacingAndGlyphs">H:</text>
<text x="379.6" y="33.9" font-size="13.4" font-weight="normal" fill="#26a69a" stroke="#26a69a" stroke-width="0.3" text-anchor="start" textLength="38.2" lengthAdjust="spacingAndGlyphs">3.6096</text>
<text x="422.4" y="33.9" font-size="13.4" font-weight="bold" fill="#131722" text-anchor="start" textLength="8.6" lengthAdjust="spacingAndGlyphs">L:</text>
<text x="433.6" y="33.9" font-size="13.4" font-weight="normal" fill="#26a69a" stroke="#26a69a" stroke-width="0.3" text-anchor="start" textLength="38.0" lengthAdjust="spacingAndGlyphs">3.4614</text>
<text x="475.9" y="33.9" font-size="13.4" font-weight="bold" fill="#131722" text-anchor="start" textLength="10.5" lengthAdjust="spacingAndGlyphs">C:</text>
<text x="488.9" y="33.9" font-size="13.4" font-weight="normal" fill="#26a69a" stroke="#26a69a" stroke-width="0.3" text-anchor="start" textLength="37.9" lengthAdjust="spacingAndGlyphs">3.5728</text>
<polygon points="190.8,33.9 201,33.9 195.9,25.4" fill="#26a69a" shape-rendering="auto"/>
<g shape-rendering="auto" fill="#2196f3">
<circle cx="10.2" cy="843.7" r="4.3"/><circle cx="16.6" cy="838.6" r="5.7"/><circle cx="25.8" cy="841.3" r="4.4"/><circle cx="27.5" cy="843.6" r="4.4"/><rect x="10.2" y="840" width="17.3" height="8"/>
<polyline points="5.2,847.3 15.75,838.2 21.9,844.9 29.6,837.4" fill="none" stroke="#ffffff" stroke-width="0.95"/>
<circle cx="15.75" cy="838.2" r="1.65" fill="#ffffff"/><circle cx="21.9" cy="844.9" r="1.65" fill="#ffffff"/>
</g>
<text x="34.3" y="844.9" font-size="13" font-weight="normal" fill="#1e222d" stroke="#1e222d" stroke-width="0.3" text-anchor="start" textLength="70.3" lengthAdjust="spacingAndGlyphs">TradingView</text>
</svg>
</body></html>
